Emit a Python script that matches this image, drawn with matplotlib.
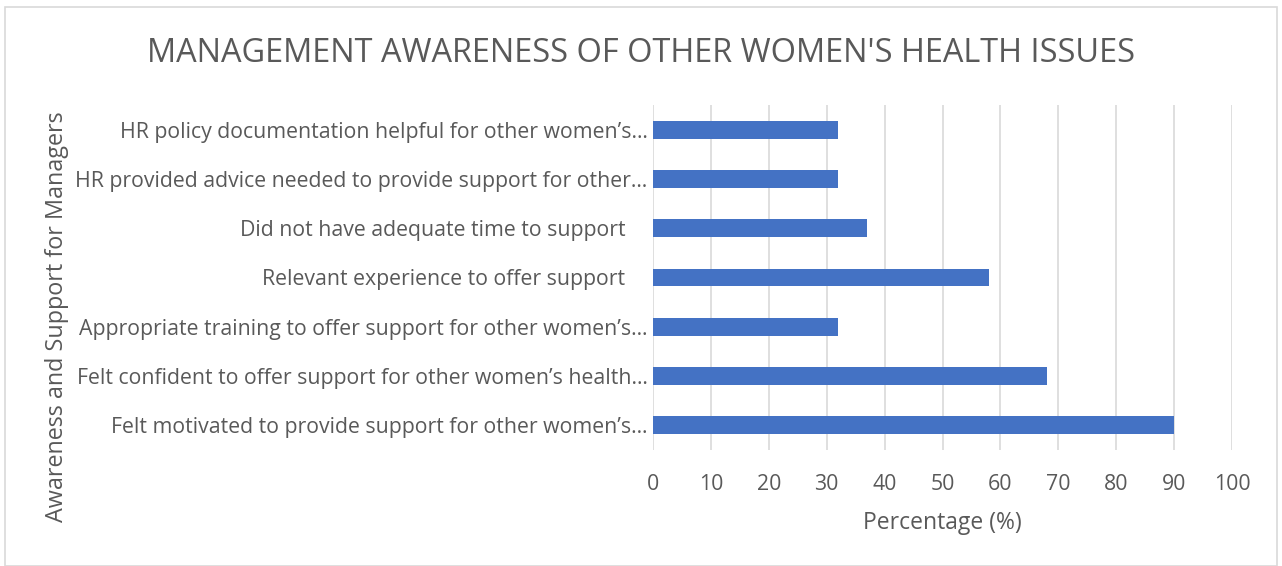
# horizontal bar chart of manager awareness survey results
import matplotlib
matplotlib.use('Agg')
import matplotlib.pyplot as plt
from matplotlib import font_manager

# data (bottom to top)
categories = [
    'Felt motivated to provide support for other women\u2019s\u2026',
    'Felt confident to offer support for other women\u2019s health\u2026',
    'Appropriate training to offer support for other women\u2019s\u2026',
    'Relevant experience to offer support    ',
    'Did not have adequate time to support    ',
    'HR provided advice needed to provide support for other\u2026',
    'HR policy documentation helpful for other women\u2019s\u2026',
]
values = [90, 68, 32, 58, 37, 32, 32]
xticks = [0, 10, 20, 30, 40, 50, 60, 70, 80, 90, 100]

def pick_font(names):
    for n in names:
        try:
            font_manager.findfont(n, fallback_to_default=False)
            return n
        except Exception:
            pass
    return 'DejaVu Sans'

narrow = pick_font(['Liberation Sans Narrow', 'Open Sans', 'Noto Sans'])
wide = pick_font(['Open Sans', 'Noto Sans', 'DejaVu Sans'])

grey = '#595959'
fig = plt.figure(figsize=(12.82, 5.66), dpi=100)
ax = fig.add_axes([0.5094, 0.205, 0.4516, 0.6095])

ax.barh(range(len(values)), values, height=0.36, color='#4472C4', zorder=3)
ax.set_ylim(-0.5, len(values) - 0.5)
ax.set_xlim(0, 100)
ax.set_xticks(xticks)
ax.set_yticks(range(len(values)))
ax.set_yticklabels(categories, fontsize=15.3, color=grey, family=narrow)
ax.set_xticklabels([str(t) for t in xticks], fontsize=15.3, color=grey, family=narrow)
ax.tick_params(axis='both', length=0)
ax.tick_params(axis='x', pad=17)
ax.tick_params(axis='y', pad=4)

ax.grid(axis='x', color='#d9d9d9', linewidth=1.2, zorder=0)
for s in ax.spines.values():
    s.set_visible(False)

ax.set_xlabel('Percentage (%)', fontsize=16.5, color=grey, family=narrow, labelpad=12)
fig.text(0.0445, 0.44, 'Awareness and Support for Managers', rotation=90,
         ha='center', va='center', fontsize=16.8, color=grey, family=wide)
fig.text(0.5, 0.905, "MANAGEMENT AWARENESS OF OTHER WOMEN'S HEALTH ISSUES",
         ha='center', va='center', fontsize=23.4, color=grey, family=narrow)

# chart border
fig.patches.append(plt.Rectangle((0.004, 0.0), 0.992, 0.987, transform=fig.transFigure,
                                 fill=False, edgecolor='#d9d9d9', linewidth=1.2))

plt.savefig('out.png', dpi=100)
